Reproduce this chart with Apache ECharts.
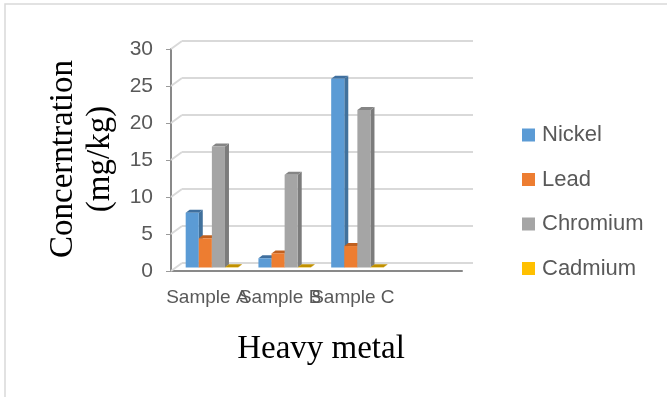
<!DOCTYPE html>
<html>
<head>
<meta charset="utf-8">
<script src="https://cdn.jsdelivr.net/npm/echarts@6/dist/echarts.min.js"></script>
<style>
html,body{margin:0;padding:0;background:#fff;}
#chart{width:667px;height:397px;}
</style>
</head>
<body>
<div id="chart"></div>
<script>
// ---- data ----
const categories = ['Sample A', 'Sample B', 'Sample C', ''];
const seriesNames = ['Nickel', 'Lead', 'Chromium', 'Cadmium'];
const nickel = [7.4, 1.25, 25.5];
const lead = [3.95, 1.9, 2.9];
const chromium = [16.35, 12.55, 21.3];
const cadmium = [0.03, 0.03, 0.03];
const yTicks = [0, 5, 10, 15, 20, 25, 30];
const yTitle = 'Concerntration\n(mg/kg)';
const xTitle = 'Heavy metal';

// ---- style ----
const faceColors = ['#5b9bd5', '#ed7d31', '#a5a5a5', '#ffc000'];
const sideColors = ['#41719c', '#ae5a21', '#7c7c7c', '#bf9000'];
const topColors = ['#3f6f9e', '#c0601f', '#858585', '#c09000'];
const SANS = '"Liberation Sans", Arial, sans-serif';
const SERIF = '"Liberation Serif", "Times New Roman", serif';
const DX = 4, DY = -3;

const chart = echarts.init(document.getElementById('chart'), null, {renderer: 'canvas'});

function barRender(k) {
  return function (params, api) {
    const cat = api.value(0);
    const val = api.value(1);
    const p = api.coord([cat, val]);
    const p0 = api.coord([cat, 0]);
    const band = api.size([1, 0])[0];
    const bw = band * 0.18;
    const x0 = p[0] + (k - 2) * bw;
    const x1 = x0 + bw;
    const top = p[1], bot = p0[1];
    return {
      type: 'group',
      children: [
        {type: 'polygon', shape: {points: [[x1, top], [x1 + DX, top + DY], [x1 + DX, bot + DY], [x1, bot]]},
         style: {fill: sideColors[k]}},
        {type: 'polygon', shape: {points: [[x0, top], [x0 + DX, top + DY], [x1 + DX, top + DY], [x1, top]]},
         style: {fill: topColors[k]}},
        {type: 'rect', shape: {x: x0, y: top, width: bw, height: Math.max(bot - top, 0)},
         style: {fill: faceColors[k]}}
      ]
    };
  };
}

const values = [nickel, lead, chromium, cadmium];
const barSeries = values.map((arr, k) => ({
  name: seriesNames[k],
  type: 'custom',
  xAxisIndex: 2,
  yAxisIndex: 2,
  z: 5,
  itemStyle: {color: faceColors[k]},
  renderItem: barRender(k),
  encode: {x: 0, y: 1},
  data: arr.map((v, i) => [i, v])
}));

const wallSeries = {
  type: 'custom',
  xAxisIndex: 0,
  yAxisIndex: 0,
  z: 1,
  silent: true,
  renderItem: function (params, api) {
    const y = api.coord([0, api.value(1)])[1];
    const x = params.coordSys.x;
    return {type: 'line', shape: {x1: x, y1: y, x2: x + 11, y2: y - 8},
            style: {stroke: '#d9d9d9', lineWidth: 2}};
  },
  encode: {x: 0, y: 1},
  data: yTicks.map(v => [0, v])
};

const gridCommon = {outerBoundsMode: 'none', containLabel: false};

const option = {
  backgroundColor: '#ffffff',
  animation: false,
  grid: [
    Object.assign({left: 171, top: 49, width: 291, height: 222}, gridCommon),
    Object.assign({left: 182, top: 41, width: 291, height: 222}, gridCommon),
    Object.assign({left: 175.5, top: 45.5, width: 291, height: 222}, gridCommon)
  ],
  xAxis: [
    {type: 'category', gridIndex: 0, data: categories,
     axisLine: {show: true, lineStyle: {color: '#898989', width: 2}},
     axisTick: {show: false},
     axisLabel: {interval: 0, margin: 17, color: '#595959', fontSize: 19, fontFamily: SANS},
     splitLine: {show: false}},
    {type: 'category', gridIndex: 1, data: categories, show: false},
    {type: 'category', gridIndex: 2, data: categories, show: false}
  ],
  yAxis: [
    {type: 'value', gridIndex: 0, min: 0, max: 30, interval: 5,
     axisLine: {show: true, lineStyle: {color: '#898989', width: 2}},
     axisTick: {show: true, length: 5, lineStyle: {color: '#9a9a9a', width: 1}},
     axisLabel: {margin: 18, color: '#595959', fontSize: 21, fontFamily: SANS},
     splitLine: {show: false}},
    {type: 'value', gridIndex: 1, min: 0, max: 30, interval: 5,
     axisLine: {show: false}, axisTick: {show: false}, axisLabel: {show: false},
     splitLine: {show: true, lineStyle: {color: '#d9d9d9', width: 2}}},
    {type: 'value', gridIndex: 2, min: 0, max: 30, interval: 5, show: false,
     splitLine: {show: false}}
  ],
  legend: {
    data: seriesNames,
    orient: 'vertical',
    left: 522,
    top: 124,
    padding: 0,
    itemWidth: 13,
    itemHeight: 13,
    itemGap: 22.5,
    icon: 'rect',
    textStyle: {fontSize: 22, lineHeight: 22, color: '#595959', fontFamily: SANS, padding: [0, 0, 0, 2]}
  },
  graphic: [
    {type: 'rect', silent: true, z: -10, shape: {x: 5, y: 4, width: 800, height: 600},
     style: {fill: 'none', stroke: '#d9d9d9', lineWidth: 1.5}},
    {type: 'text', x: 82, y: 159, rotation: Math.PI / 2,
     style: {text: yTitle, font: '33px ' + SERIF, fill: '#000', align: 'center',
             verticalAlign: 'middle', lineHeight: 37}},
    {type: 'text', x: 321, y: 349,
     style: {text: xTitle, font: '33px ' + SERIF, fill: '#000', align: 'center',
             verticalAlign: 'middle'}}
  ],
  series: barSeries.concat([wallSeries])
};

chart.setOption(option);
</script>
</body>
</html>
